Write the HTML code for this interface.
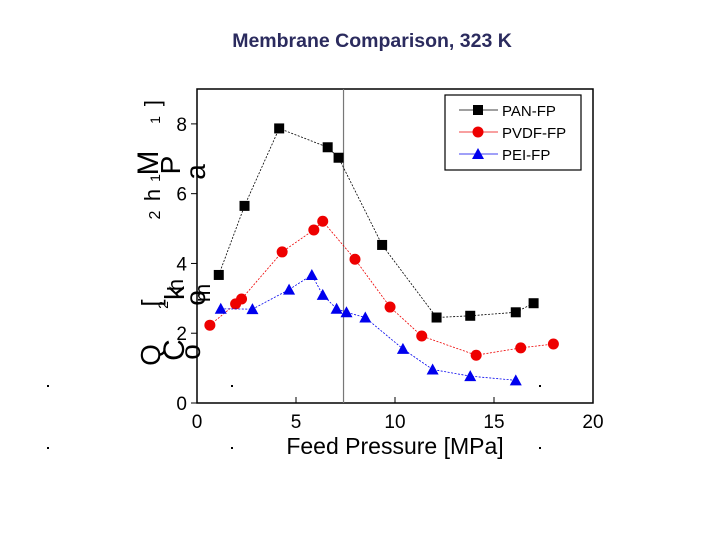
<!DOCTYPE html>
<html><head><meta charset="utf-8"><style>
body{margin:0;background:#fff;}
svg text{font-family:"Liberation Sans",Arial,sans-serif;}
</style></head><body>
<svg id="chart" width="720" height="540" xmlns="http://www.w3.org/2000/svg">
<text x="372" y="47" text-anchor="middle" font-size="19.5" font-weight="bold" fill="#2b2b5e">Membrane Comparison, 323 K</text>
<g id="ylab" fill="#000"></g>
<g id="plot"></g>
<g fill="#000">
<rect x="47" y="385" width="2" height="2"/><rect x="231" y="385" width="2" height="2"/><rect x="539" y="385" width="2" height="2"/>
<rect x="47" y="447" width="2" height="2"/><rect x="231" y="447" width="2" height="2"/><rect x="539" y="447" width="2" height="2"/>
</g>
<text x="395" y="454" text-anchor="middle" font-size="23" fill="#000">Feed Pressure [MPa]</text>
</svg>
<script>
const seriesNames=["PAN-FP","PVDF-FP","PEI-FP"];
const panX=[1.1,2.4,4.15,6.6,7.15,9.35,12.1,13.8,16.1,17.0];
const panY=[3.67,5.65,7.87,7.33,7.03,4.53,2.45,2.5,2.6,2.86];
const pvdfX=[0.65,1.95,2.25,4.3,5.9,6.35,7.98,9.75,11.35,14.1,16.35,18.0];
const pvdfY=[2.23,2.84,2.98,4.33,4.96,5.21,4.12,2.75,1.92,1.37,1.58,1.69];
const peiX=[1.2,2.8,4.65,5.8,6.35,7.05,7.55,8.5,10.4,11.9,13.8,16.1];
const peiY=[2.7,2.69,3.25,3.67,3.1,2.7,2.6,2.45,1.55,0.96,0.77,0.65];
const xTicks=[0,5,10,15,20];
const yTicks=[0,2,4,6,8];
const refLineX=7.4;
const NS="http://www.w3.org/2000/svg";
const X0=197,X1=593,Y0=403,Y1=89;
const sx=v=>X0+(v/20)*(X1-X0);
const sy=v=>Y0-(v/9)*(Y0-Y1);
const plot=document.getElementById('plot');
function mk(t,a,p){const e=document.createElementNS(NS,t);for(const k in a)e.setAttribute(k,a[k]);(p||plot).appendChild(e);return e;}
let fr=mk('rect',{x:X0,y:Y1,width:X1-X0,height:Y0-Y1,fill:'none',stroke:'#000','stroke-width':1.5});


xTicks.forEach(v=>{
 let l=mk('line',{x1:sx(v),x2:sx(v),y1:Y0,y2:Y0-6,stroke:'#000'});
 
 
 let t=mk('text',{x:sx(v),y:Y0+25,'text-anchor':'middle','font-size':19});
 t.textContent=v;
 
 
});
yTicks.forEach(v=>{
 let l=mk('line',{x1:X0-6,x2:X0,y1:sy(v),y2:sy(v),stroke:'#000'});
 
 
 let t=mk('text',{x:X0-10,y:sy(v)+7,'text-anchor':'end','font-size':19});
 t.textContent=v;
 
 
});
let rl=mk('line',{x1:sx(refLineX),x2:sx(refLineX),y1:Y1,y2:Y0,stroke:'#777','stroke-width':1.2});


const colors=['#000','#e00','#00e'];
const shapes=['sq','ci','tr'];
function marker(shape,cx,cy,c,name){
 let e;
 if(shape==='sq')e=mk('rect',{x:cx-5,y:cy-5,width:10,height:10,fill:c});
 else if(shape==='ci')e=mk('circle',{cx:cx,cy:cy,r:5.5,fill:c});
 else e=mk('polygon',{points:`${cx},${cy-6} ${cx+6},${cy+5} ${cx-6},${cy+5}`,fill:c});
 
 
}
[[panX,panY],[pvdfX,pvdfY],[peiX,peiY]].forEach((s,i)=>{
 const pts=s[0].map((x,j)=>sx(x)+','+sy(s[1][j])).join(' ');
 let pl=mk('polyline',{points:pts,fill:'none',stroke:colors[i],'stroke-width':0.8,'stroke-dasharray':'2,1.5'});
 
 
 s[0].forEach((x,j)=>marker(shapes[i],sx(x),sy(s[1][j]),colors[i],'point-'+seriesNames[i].toLowerCase()));
});
let lg=mk('rect',{x:445,y:95,width:136,height:75,fill:'#fff',stroke:'#000','stroke-width':1.2});


seriesNames.forEach((n,i)=>{
 const y=110+i*22;
 let l=mk('line',{x1:459,x2:498,y1:y,y2:y,stroke:colors[i],'stroke-width':0.8});
 
 
 marker(shapes[i],478,y,colors[i],'legend-marker');
 let t=mk('text',{x:502,y:y+6,'font-size':15});
 t.textContent=n;
 
 
});
const yl=document.getElementById('ylab');
const glyphs=[['Q',160,355,28],['[',160,303,26],['2',160,215,16],['h',160,195,22],['1',160,178,14],['M',158,163,30],['1',160,120,14],[']',160,103,22],
['C',184,350,30],['2',168,305,14],['k',184,293,28],['h',183,285,22],['P',180,165,28],
['o',200,352,28],['o',205,298,28],['a',205,172,28],['m',210,293,22]];
glyphs.forEach(g=>{
 let t=mk('text',{x:0,y:0,'font-size':g[3],transform:`translate(${g[1]},${g[2]}) rotate(-90)`,'text-anchor':'middle'},yl);
 t.textContent=g[0];
 
 
});
</script>
</body></html>
